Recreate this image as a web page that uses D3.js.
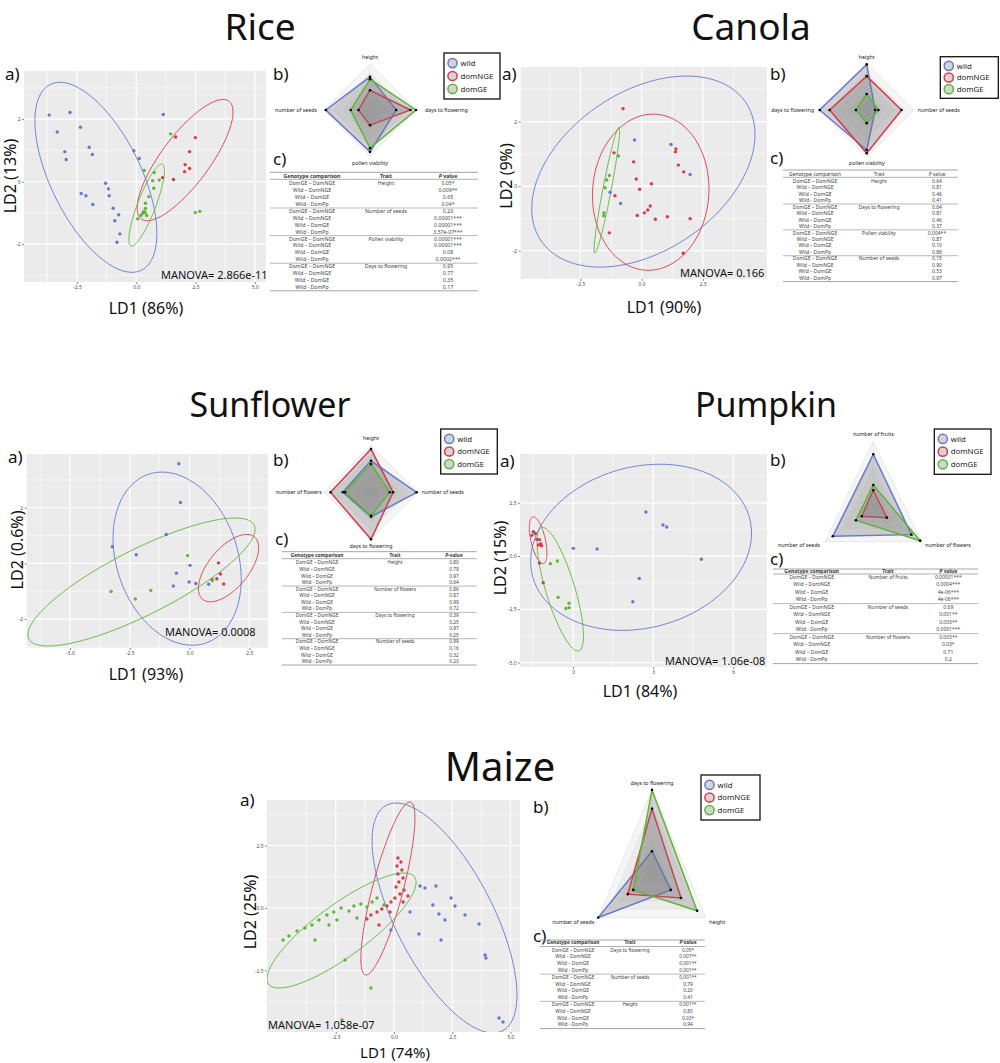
<!DOCTYPE html>
<html><head><meta charset="utf-8">
<script src="https://cdn.jsdelivr.net/npm/d3@7"></script>
<style>body{margin:0;background:#fff;} text{font-family:"Noto Sans","DejaVu Sans",sans-serif;}</style>
</head><body><svg id="c" width="1000" height="1063"></svg>
<script>
// ---------------- DATA ----------------
const titles = ["Rice","Canola","Sunflower","Pumpkin","Maize"];
const groupNames = ["wild","domNGE","domGE"];
const groupColors = ["#6479d3","#d83b4b","#5db635"];
const comparisons = ["DomGE – DomNGE","Wild – DomNGE","Wild – DomGE","Wild - DomPp"];

// Rice LDA scores [LD1, LD2]
const riceWild = [[-3.67,2.13],[-2.79,2.21],[-3.33,1.59],[-2.35,1.74],[-3.01,0.96],[-2.95,0.71],[-1.98,1.10],[-1.85,0.87],[1.14,2.15],[-0.10,0.99],[0.13,0.74],[-1.29,-0.05],[-1.17,-0.23],[-1.14,-0.45],[-2.32,-0.38],[-2.12,-0.45],[-1.83,-0.73],[-0.97,-0.85],[-0.74,-1.06],[-0.90,-1.25],[-0.69,-1.67],[-0.81,-1.94]];
const riceNGE = [[1.66,1.43],[2.49,1.41],[2.25,0.96],[2.06,0.54],[2.25,0.42],[2.04,0.32],[1.57,0.07],[1.11,0.13]];
const riceGE = [[1.45,1.53],[0.34,0.36],[0.76,0.29],[0.69,0.03],[0.97,0.05],[0.74,-0.21],[0.53,-0.48],[0.39,-0.69],[0.39,-0.86],[0.32,-0.95],[0.27,-1.01],[0.38,-0.99],[0.20,-1.08],[0.06,-1.19],[0.44,-1.08],[2.49,-0.99],[2.68,-0.95]];
// ellipses: [centre LD1, centre LD2, half-width, half-height, LD1 offset of top point]
const riceEllipses = [[-1.70,0.14,2.57,3.04,-1.52],[2.06,0.69,2.02,1.94,1.60],[0.44,-0.75,0.75,1.31,0.63]];
const riceRadarAxes = ["height","days to flowering","pollen viability","number of seeds"];
const riceRadar = [[0.72,0.57,0.91,0.96],[0.43,0.88,0.33,0.25],[0.67,1.0,0.83,0.42]];
const riceTraits = ["Height","Number of seeds","Pollen viability","Days to flowering"];
const riceP = [["0.05*","0.009**","0.65","0.04*"],["0.23","0.00001***","0.00001***","3.57e-07***"],["0.00001***","0.00001***","0.08","0.0002***"],["0.95","0.77","0.35","0.17"]];

// Canola
const canolaWild = [[-0.29,1.43],[1.20,1.29],[1.98,0.36],[-1.29,-0.19],[-0.86,-0.54]];
const canolaNGE = [[-0.76,2.40],[-1.13,1.03],[-0.33,0.75],[-0.22,0.22],[-0.08,-0.10],[0.40,0.07],[-1.09,-0.30],[-0.18,-0.91],[0.11,-0.83],[0.25,-0.74],[0.35,-0.62],[0.56,-1.03],[1.05,-0.95],[1.40,1.15],[1.38,1.06],[1.50,0.65],[1.72,0.44],[1.98,-1.01],[1.70,-2.08],[-1.32,-1.45]];
const canolaGE = [[-0.95,0.93],[-1.32,0.33],[-1.43,0.19],[-1.49,-0.05],[-1.54,-0.83],[-1.55,-0.92]];
const canolaEllipses = [[0.07,0.45,4.56,2.96,1.77],[0.37,-0.19,2.38,2.42,0.10],[-1.42,-0.13,0.52,1.95,0.49]];
const canolaRadarAxes = ["height","number of seeds","pollen viability","days to flowering"];
const canolaRadar = [[0.97,0.18,0.85,1.0],[0.72,0.74,0.92,0.79],[0.34,0.25,0.28,0.23]];
const canolaTraits = ["Height","Days to flowering","Pollen viability","Number of seeds"];
const canolaP = [["0.64","0.81","0.46","0.41"],["0.64","0.81","0.46","0.37"],["0.004**","0.87","0.10","0.86"],["0.15","0.90","0.53","0.97"]];

// Sunflower
const sunWild = [[-0.45,3.58],[-0.38,2.19],[-0.97,1.04],[-3.23,0.60],[-2.23,0.31],[0.02,-0.07],[-0.55,-0.35],[-0.02,-0.67],[0.26,-0.72],[-0.68,-0.81],[0.80,-0.75]];
const sunNGE = [[1.21,0.02],[1.29,-0.38],[1.14,-0.55],[0.94,-0.59],[1.43,-0.74]];
const sunGE = [[-0.08,0.28],[-3.28,-1.01],[-1.62,-0.97],[-2.27,-1.28],[0.95,-0.62]];
const sunEllipses = [[-0.52,0.17,2.68,3.11,-0.63],[1.63,-0.17,1.26,1.21,0.76],[-2.01,-0.67,4.75,2.30,3.91]];
const sunRadarAxes = ["height","number of seeds","days to flowering","number of flowers"];
const sunRadar = [[0.67,0.97,0.52,0.60],[0.92,0.47,1.0,0.86],[0.60,0.40,0.50,0.55]];
const sunTraits = ["Height","Number of flowers","Days to flowering","Number of seeds"];
const sunP = [["0.80","0.79","0.97","0.64"],["0.86","0.87","0.99","0.72"],["0.39","0.25","0.97","0.25"],["0.99","0.16","0.32","0.23"]];

// Pumpkin
const pumpWild = [[0.01,0.36],[0.90,0.33],[2.73,2.07],[3.37,1.46],[3.51,1.36],[4.81,-0.15],[2.48,-1.05],[2.24,-2.15]];
const pumpNGE = [[-1.49,1.14],[-1.42,1.06],[-1.55,0.97],[-1.36,0.78],[-1.26,0.77],[-1.21,0.58],[-1.30,0.52],[-1.18,0.48],[-1.26,-0.33],[-1.12,-1.25]];
const pumpGE = [[-0.85,-0.36],[-0.59,-0.23],[-0.56,-1.94],[-0.27,-2.46],[-0.15,-2.43],[-0.15,-2.22]];
const pumpEllipses = [[2.55,0.41,4.14,3.90,0.70],[-1.31,0.74,0.33,1.10,-0.18],[-0.48,-1.56,0.87,2.90,-0.66]];
const pumpRadarAxes = ["number of fruits","number of flowers","number of seeds"];
const pumpRadar = [[0.81,0.79,0.84],[0.27,0.28,0.24],[0.35,0.97,0.36]];
const pumpTraits = ["Number of fruits","Number of seeds","Number of flowers"];
const pumpP = [["0.00001***","0.0004***","4e-06***","4e-06***"],["0.69","0.001**","0.003**","0.0001***"],["0.003**","0.03*","0.71","0.2"]];

// Maize
const maizeWild = [[1.12,0.88],[1.33,0.80],[1.80,0.88],[1.67,0.12],[1.93,-0.24],[2.19,-0.48],[2.62,0.08],[3.05,-0.28],[3.65,-0.64],[3.91,-1.88],[3.95,-2.0],[2.02,-1.28],[1.07,-1.04],[-0.13,-0.88],[4.51,-4.4],[4.68,-4.56],[0.69,-0.16],[2.45,0.40]];
const maizeNGE = [[0.17,2.0],[0.30,1.84],[0.13,1.68],[0.34,1.52],[0.17,1.36],[0.39,1.2],[0.21,1.04],[0.09,0.84],[0.43,0.72],[0.26,0.56],[0.04,0.4],[-0.13,0.24],[-0.30,0.08],[-0.52,-0.04],[-0.73,-0.16],[-0.99,-0.28],[-1.16,-0.44],[0.39,0.24],[0.60,0.48],[-0.17,-0.16],[-0.64,-0.68]];
const maizeGE = [[-4.76,-1.28],[-4.51,-1.12],[-4.16,-0.92],[-3.82,-0.8],[-3.52,-0.68],[-3.22,-0.48],[-2.88,-0.28],[-2.58,-0.16],[-2.27,0],[-1.93,-0.12],[-1.72,0.08],[-1.42,0.16],[-1.16,0.04],[-0.94,0.24],[-0.73,0.40],[-2.79,-0.68],[-3.39,-1.28],[-2.10,-2.08],[-0.99,-3.2],[-2.23,-4.48],[-1.59,-0.40],[-2.45,-0.48],[-0.43,0.12]];
const maizeEllipses = [[2.17,-0.40,3.11,4.6,-2.08],[-0.26,0.78,1.16,3.46,0.94],[-2.25,-0.9,3.2,2.3,2.68]];
const maizeRadarAxes = ["days to flowering","height","number of seeds"];
const maizeRadar = [[0.28,0.35,1.0],[0.78,0.54,0.45],[1.0,0.84,0.35]];
const maizeTraits = ["Days to flowering","Number of seeds","Height"];
const maizeP = [["0.05*","0.007**","0.001**","0.001**"],["0.001**","0.79","0.20","0.41"],["0.001**","0.80","0.03*","0.94"]];

const manova = ["MANOVA= 2.866e-11","MANOVA= 0.166","MANOVA= 0.0008","MANOVA= 1.06e-08","MANOVA= 1.058e-07"];
const ld1Labels = ["LD1 (86%)","LD1 (90%)","LD1 (93%)","LD1 (84%)","LD1 (74%)"];
const ld2Labels = ["LD2 (13%)","LD2 (9%)","LD2 (0.6%)","LD2 (15%)","LD2 (25%)"];

// ---------------- DRAWING ----------------
const svg = d3.select("#c");

function ellPts(e){
  const [cx,cy,hw,hh,k]=e; const b=Math.sqrt(Math.max(hw*hw-k*k,0));
  return d3.range(0,121).map(i=>{const t=i/120*2*Math.PI; return [cx+k*Math.cos(t)+b*Math.sin(t), cy+hh*Math.cos(t)];});
}

function scatter(c){
  const x = d3.scaleLinear().domain(c.xd).range([c.l,c.r]);
  const y = d3.scaleLinear().domain(c.yd).range([c.b,c.t]);
  const g = svg.append("g");
  const id="clip_"+c.name;
  g.append("clipPath").attr("id",id).append("rect").attr("x",c.l).attr("y",c.t).attr("width",c.r-c.l).attr("height",c.b-c.t);
  g.append("rect").attr("x",c.l).attr("y",c.t).attr("width",c.r-c.l).attr("height",c.b-c.t).attr("fill","#ebebeb");
  const gg = g.append("g").attr("clip-path","url(#"+id+")");
  const xs=c.xt[1]-c.xt[0], ys=c.yt[0]-c.yt[1];
  const minors=(t,s,d)=>{const out=[];const lo=Math.min(...t);for(let v=lo-s*10+s/2;v<=d[1];v+=s){if(v>=d[0])out.push(v);}return out;};
  const mx=minors(c.xt,xs,c.xd), my=minors(c.yt,Math.abs(ys),c.yd);
  mx.forEach(v=>gg.append("line").attr("x1",x(v)).attr("x2",x(v)).attr("y1",c.t).attr("y2",c.b).attr("stroke","#fff").attr("stroke-width",0.6));
  my.forEach(v=>gg.append("line").attr("y1",y(v)).attr("y2",y(v)).attr("x1",c.l).attr("x2",c.r).attr("stroke","#fff").attr("stroke-width",0.6));
  c.xt.forEach(v=>gg.append("line").attr("x1",x(v)).attr("x2",x(v)).attr("y1",c.t).attr("y2",c.b).attr("stroke","#fff").attr("stroke-width",1.2));
  c.yt.forEach(v=>gg.append("line").attr("y1",y(v)).attr("y2",y(v)).attr("x1",c.l).attr("x2",c.r).attr("stroke","#fff").attr("stroke-width",1.2));
  const line=d3.line().x(d=>x(d[0])).y(d=>y(d[1]));
  c.groups.forEach((grp,i)=>{
    gg.append("path").attr("d",line(ellPts(c.ell[i]))).attr("fill","none").attr("stroke",groupColors[i]).attr("stroke-width",0.9);
  });
  c.groups.forEach((grp,i)=>{
    gg.selectAll(null).data(grp).enter().append("circle").attr("cx",d=>x(d[0])).attr("cy",d=>y(d[1])).attr("r",1.7).attr("fill",groupColors[i]);
  });
  const ax=g.append("g").attr("transform","translate(0,"+c.b+")").call(d3.axisBottom(x).tickValues(c.xt).tickFormat((d,i)=>c.xtl[i]).tickSize(2).tickPadding(1.5));
  const ay=g.append("g").attr("transform","translate("+c.l+",0)").call(d3.axisLeft(y).tickValues(c.yt).tickFormat((d,i)=>c.ytl[i]).tickSize(2).tickPadding(1.5));
  [ax,ay].forEach(a=>{a.select(".domain").remove();a.selectAll("line").attr("stroke","#333").attr("stroke-width",0.6);a.selectAll("text").attr("font-size",5).attr("fill","#4d4d4d").attr("font-family","Noto Sans");});
  g.append("text").attr("x",c.mx).attr("y",c.my).attr("font-size",11).attr("fill","#111").text(c.manova);
  g.append("text").attr("x",c.lx).attr("y",c.ly).attr("text-anchor","middle").attr("font-size",c.lfs||16).attr("fill","#111").text(c.xlab);
  g.append("text").attr("transform","translate("+c.yx+","+c.yy+") rotate(-90)").attr("text-anchor","middle").attr("font-size",16).attr("fill","#111").text(c.ylab);
  g.append("text").attr("x",c.ax).attr("y",c.ay).attr("font-size",17).attr("fill","#111").text("a)");
}

function radar(c){
  const g=svg.append("g");
  const pt=(a,v)=>[c.cx+c.rx*v*Math.cos(a*Math.PI/180), c.cy+c.ry*v*Math.sin(a*Math.PI/180)];
  const poly=vals=>d3.line()(c.angles.map((a,i)=>pt(a,vals[i])))+"Z";
  [1,0.8,0.6,0.4,0.2].forEach(l=>{
    g.append("path").attr("d",poly(c.angles.map(()=>l))).attr("fill","rgba(200,200,200,0.18)").attr("stroke","#dcdcdc").attr("stroke-width",0.6);
  });
  c.angles.forEach(a=>{const p=pt(a,1);g.append("line").attr("x1",c.cx).attr("y1",c.cy).attr("x2",p[0]).attr("y2",p[1]).attr("stroke","#e2e2e2").attr("stroke-width",0.5);});
  c.series.forEach((vals,i)=>{
    g.append("path").attr("d",poly(vals)).attr("fill","rgba(120,120,120,0.28)").attr("stroke",groupColors[i]).attr("stroke-width",1.5).attr("stroke-linejoin","miter");
  });
  c.series.forEach(vals=>{
    c.angles.forEach((a,j)=>{const p=pt(a,vals[j]);g.append("circle").attr("cx",p[0]).attr("cy",p[1]).attr("r",1.3).attr("fill","#000");});
  });
  c.labels.forEach((t,j)=>{
    const p=pt(c.angles[j],1); const o=c.lo[j];
    g.append("text").attr("x",p[0]+o[0]).attr("y",p[1]+o[1]).attr("text-anchor",o[2]).attr("font-size",5.3).attr("fill","#222").text(t);
  });
  const L=c.leg;
  g.append("rect").attr("x",L[0]).attr("y",L[1]).attr("width",L[2]).attr("height",L[3]).attr("fill","#fff").attr("stroke","#111").attr("stroke-width",1.3);
  groupNames.forEach((n,i)=>{
    const yy=L[1]+L[3]*(0.22+0.28*i);
    g.append("circle").attr("cx",L[0]+8.5).attr("cy",yy).attr("r",4.6).attr("fill","#d4d4d4").attr("stroke",groupColors[i]).attr("stroke-width",1.5);
    g.append("text").attr("x",L[0]+16.5).attr("y",yy+2.7).attr("font-size",7.8).attr("fill","#222").text(n);
  });
  g.append("text").attr("x",c.bx).attr("y",c.by).attr("font-size",17).attr("fill","#111").text("b)");
  g.append("text").attr("x",c.cx2).attr("y",c.cy2).attr("font-size",17).attr("fill","#111").text("c)");
}

function table(c){
  const g=svg.append("g");
  const fs=c.fs, col="#444";
  const hl=(yy,w)=>g.append("line").attr("x1",c.x0).attr("x2",c.x1).attr("y1",yy).attr("y2",yy).attr("stroke","#9a9a9a").attr("stroke-width",w);
  hl(c.top,0.9);
  const hw=c.bold?"bold":"normal";
  g.append("text").attr("x",c.c1).attr("y",c.hy).attr("text-anchor","middle").attr("font-size",fs).attr("font-weight",hw).attr("fill","#333").text("Genotype comparison");
  g.append("text").attr("x",c.c2).attr("y",c.hy).attr("text-anchor","middle").attr("font-size",fs).attr("font-weight",hw).attr("fill","#333").text("Trait");
  const ph=g.append("text").attr("x",c.c3).attr("y",c.hy).attr("text-anchor","middle").attr("font-size",fs).attr("font-weight",hw).attr("fill","#333");
  ph.append("tspan").attr("font-style","italic").text("P");
  ph.append("tspan").text(c.dash?"-value":" value");
  hl(c.hl,0.8);
  c.traits.forEach((tr,gi)=>{
    comparisons.forEach((cm,ri)=>{
      const yy=c.r0+(gi*4+ri)*c.rh+fs*0.35;
      g.append("text").attr("x",c.c1).attr("y",yy).attr("text-anchor","middle").attr("font-size",fs).attr("fill",col).text(cm);
      if(ri===0) g.append("text").attr("x",c.c2).attr("y",yy).attr("text-anchor","middle").attr("font-size",fs).attr("fill",col).text(tr);
      g.append("text").attr("x",c.c3).attr("y",yy).attr("text-anchor","middle").attr("font-size",fs).attr("fill",col).text(c.p[gi][ri]);
    });
    const sy=c.r0+(gi*4+3)*c.rh+c.rh*0.55;
    hl(sy, gi===c.traits.length-1?0.9:0.7);
  });
}

function title(t,x,y,fs){svg.append("text").attr("x",x).attr("y",y).attr("text-anchor","middle").attr("font-size",fs).attr("fill","#111").text(t);}

// ---------- Rice ----------
title(titles[0],260,40,37);
scatter({name:"rice",l:24,r:266,t:71,b:282,xd:[-4.73,5.47],yd:[-3.21,3.54],xt:[-2.5,0,2.5,5],xtl:["-2.5","0.0","2.5","5.0"],yt:[2,0,-2],ytl:["2","0","-2"],
  groups:[riceWild,riceNGE,riceGE],ell:riceEllipses,manova:manova[0],mx:161,my:279,xlab:ld1Labels[0],lx:146,ly:314,ylab:ld2Labels[0],yx:16,yy:176,ax:5,ay:80});
radar({cx:370,cy:110,rx:46,ry:46,angles:[-90,0,90,180],series:riceRadar,labels:riceRadarAxes,lo:[[0,-5,"middle"],[9,2,"start"],[0,9,"middle"],[-7,2,"end"]],
  leg:[444,53,56,46],bx:273,by:80,cx2:273,cy2:165});
table({x0:270,x1:478,c1:312,c2:386,c3:448,top:172.3,hy:177.8,hl:179.3,r0:183.5,rh:6.9,fs:5.2,bold:true,traits:riceTraits,p:riceP});

// ---------- Canola ----------
title(titles[1],751,40,37);
scatter({name:"canola",l:520.7,r:767,t:67,b:279,xd:[-4.94,5.12],yd:[-2.88,3.69],xt:[-2.5,0,2.5],xtl:["-2.5","0.0","2.5"],yt:[2,0,-2],ytl:["2","0","-2"],
  groups:[canolaWild,canolaNGE,canolaGE],ell:canolaEllipses,manova:manova[1],mx:680,my:277,xlab:ld1Labels[1],lx:664,ly:313,ylab:ld2Labels[1],yx:512,yy:176,ax:502,ay:80});
radar({cx:866.7,cy:110,rx:47,ry:47,angles:[-90,0,90,180],series:canolaRadar,labels:canolaRadarAxes,lo:[[0,-4,"middle"],[4,2,"start"],[0,7.5,"middle"],[-5.7,2,"end"]],
  leg:[940.3,56.7,58,41.6],bx:770,by:80,cx2:770,cy2:164});
table({x0:783,x1:958,c1:815,c2:879,c3:937,top:170,hy:175.5,hl:177.3,r0:181,rh:6.47,fs:5,bold:false,traits:canolaTraits,p:canolaP});

// ---------- Sunflower ----------
title(titles[2],270,417,34);
scatter({name:"sun",l:26.7,r:268,t:454,b:648,xd:[-6.81,3.28],yd:[-3.04,3.93],xt:[-5,-2.5,0,2.5],xtl:["-5.0","-2.5","0.0","2.5"],yt:[2,0,-2],ytl:["2","0","-2"],
  groups:[sunWild,sunNGE,sunGE],ell:sunEllipses,manova:manova[2],mx:165,my:636,xlab:ld1Labels[2],lx:146,ly:680,ylab:ld2Labels[2],yx:23,yy:550,ax:8,ay:463});
radar({cx:371,cy:492.3,rx:47,ry:47,angles:[-90,0,90,180],series:sunRadar,labels:sunRadarAxes,lo:[[0,-5,"middle"],[3.7,2,"start"],[0,9,"middle"],[-2.3,2,"end"]],
  leg:[440.7,429,56.6,45],bx:273,by:466,cx2:275,cy2:545});
table({x0:281.7,x1:476.7,c1:317,c2:395,c3:454,top:551.7,hy:557,hl:558.7,r0:562.7,rh:6.58,fs:4.8,bold:true,dash:true,traits:sunTraits,p:sunP});

// ---------- Pumpkin ----------
title(titles[3],766,417,34);
scatter({name:"pump",l:520,r:767,t:454,b:667,xd:[-1.99,7.27],yd:[-5.21,4.79],xt:[0,3,6],xtl:["0","3","6"],yt:[2.5,0,-2.5,-5],ytl:["2.5","0.0","-2.5","-5.0"],
  groups:[pumpWild,pumpNGE,pumpGE],ell:pumpEllipses,manova:manova[3],mx:665,my:665,xlab:ld1Labels[3],lx:640,ly:697,ylab:ld2Labels[3],yx:506,yy:558,ax:500,ay:467});
radar({cx:873.3,cy:508.3,rx:55.7,ry:66.7,angles:[-90,30,150],series:pumpRadar,labels:pumpRadarAxes,lo:[[0,-5.6,"middle"],[3.5,5.5,"start"],[-5,5.5,"end"]],
  leg:[934.3,429,56.7,45.3],bx:770,by:466,cx2:770,cy2:565});
table({x0:773,x1:978,c1:811.7,c2:888,c3:948.3,top:569,hy:572.8,hl:574,r0:577,rh:7.5,fs:5,bold:true,traits:pumpTraits,p:pumpP});

// ---------- Maize ----------
title(titles[4],500,781,40);
scatter({name:"maize",l:267,r:520,t:800,b:1032,xd:[-5.45,5.41],yd:[-4.96,4.32],xt:[-2.5,0,2.5,5],xtl:["-2.5","0.0","2.5","5.0"],yt:[2.5,0,-2.5],ytl:["2.5","0.0","-2.5"],
  groups:[maizeWild,maizeNGE,maizeGE],ell:maizeEllipses,manova:manova[4],mx:268,my:1029,xlab:ld1Labels[4],lx:395,ly:1058,lfs:15,ylab:ld2Labels[4],yx:256,yy:912,ax:240,ay:806});
radar({cx:652,cy:875,rx:62,ry:85,angles:[-90,30,150],series:maizeRadar,labels:maizeRadarAxes,lo:[[0,-5.5,"middle"],[3.5,6,"start"],[-4,6,"end"]],
  leg:[701,775,59,45],bx:533,by:813,cx2:533,cy2:942});
table({x0:540,x1:705,c1:573,c2:630,c3:688,top:940,hy:944,hl:946.5,r0:950,rh:6.8,fs:4.8,bold:true,traits:maizeTraits,p:maizeP});
</script></body></html>
